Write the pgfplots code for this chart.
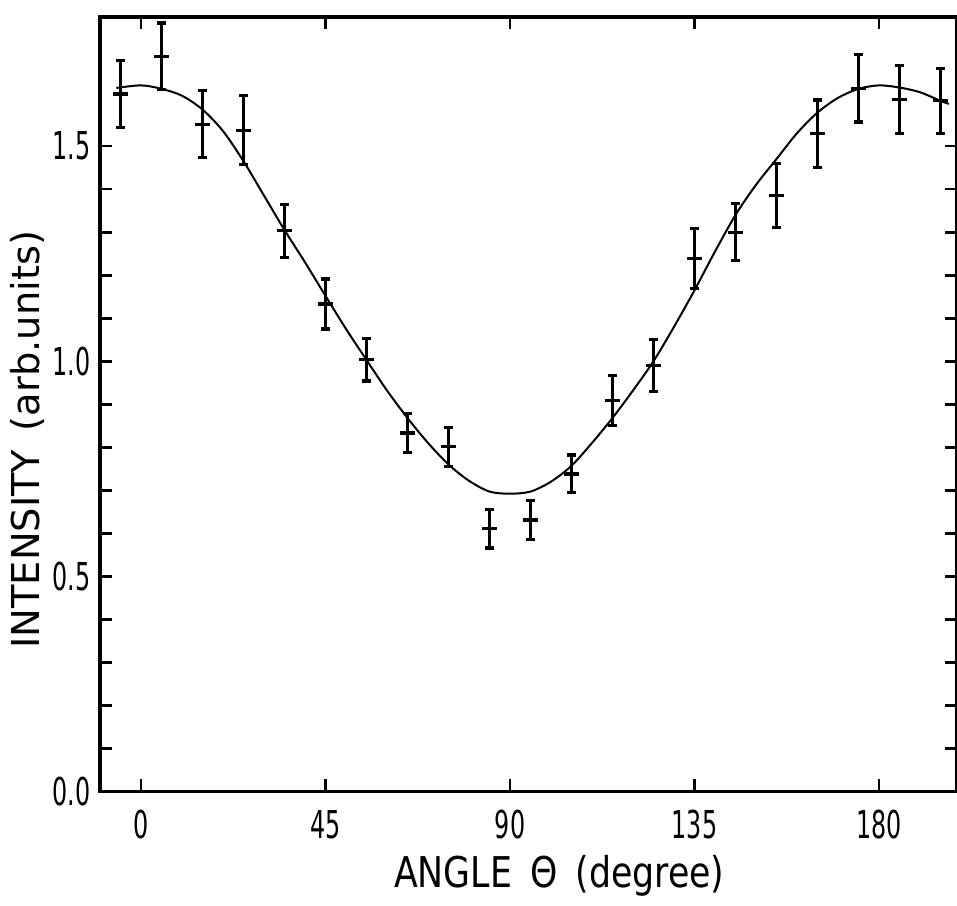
\documentclass[border=0pt]{standalone}
\usepackage{fontspec}
\usepackage{pgfplots}
\pgfplotsset{compat=1.18}
\setmainfont{DejaVu Sans}
\newfontfamily\tickfont{DejaVu Sans}[FakeStretch=0.62]
\newfontfamily\labfont{DejaVu Sans}[FakeStretch=0.82]

\begin{document}
\begin{tikzpicture}
\useasboundingbox (-25pt,-28.5pt) rectangle (214.4pt,198pt);
\begin{axis}[
    scale only axis,
    width=214.4pt,
    height=193.75pt,
    at={(0,0)}, anchor=south west,
    xmin=-10, xmax=199,
    ymin=0, ymax=1.8,
    xtick={0,45,90,135,180},
    ytick={0,0.5,1,1.5},
    minor y tick num=4,
    tick align=inside,
    major tick length=3pt,
    minor tick length=3pt,
    tick style={line width=0.7pt,black},
    axis line style={line width=0.8pt},
    /pgf/number format/assume math mode=true,
    yticklabel={\pgfmathprintnumber[fixed,fixed zerofill,precision=1]{\tick}},
    ticklabel style={font=\fontsize{9.6}{11}\tickfont},
    yticklabel style={anchor=east,inner sep=0pt,xshift=-2.2pt},
    xticklabel style={anchor=north,inner sep=0pt,yshift=-4.5pt},
    xlabel={ANGLE \,Θ \,(degree)},
    ylabel={INTENSITY \,(arb.units)},
    xlabel style={font=\fontsize{10.6}{12}\labfont,at={(axis description cs:0.536,0)},
                  anchor=base,yshift=-24pt,inner sep=0pt},
    ylabel style={font=\fontsize{9.6}{11}\rmfamily,at={(axis description cs:-0.084,0.454)},
                  anchor=center,inner sep=0pt},
    clip=false,
]
\addplot[black,line width=0.5pt,smooth,no marks] coordinates {
    (-6,1.635) (0,1.641) (5,1.633) (10,1.617) (15,1.585) (20,1.535)
    (25,1.465) (30,1.385) (35,1.305) (40,1.230) (45,1.152) (50,1.075)
    (55,1.003) (60,0.932) (65,0.868) (70,0.810) (75,0.760) (80,0.722)
    (85,0.697) (90,0.692) (95,0.697) (100,0.720) (105,0.757) (110,0.810)
    (115,0.868) (120,0.932) (125,1.000) (130,1.080) (135,1.165) (140,1.255)
    (145,1.340) (150,1.410) (155,1.470) (160,1.530) (165,1.578) (170,1.612)
    (175,1.633) (180,1.641) (185,1.636) (190,1.625) (195,1.605) (197,1.598)
};
\addplot[black,line width=0.8pt,only marks,mark=-,mark size=1.8pt,
    error bars/.cd,y dir=both,y explicit,
    error bar style={line width=0.8pt},
    error mark options={rotate=90,mark size=1.2pt,line width=0.8pt}]
    coordinates {
    (-5,1.621) +- (0,0.078)
    (5,1.709)  +- (0,0.077)
    (15,1.551) +- (0,0.078)
    (25,1.537) +- (0,0.080)
    (35,1.303) +- (0,0.062)
    (45,1.133) +- (0,0.058)
    (55,1.003) +- (0,0.049)
    (65,0.833) +- (0,0.045)
    (75,0.801) +- (0,0.045)
    (85,0.611) +- (0,0.045)
    (95,0.631) +- (0,0.045)
    (105,0.738) +- (0,0.044)
    (115,0.909) +- (0,0.058)
    (125,0.990) +- (0,0.060)
    (135,1.239) +- (0,0.070)
    (145,1.300) +- (0,0.066)
    (155,1.385) +- (0,0.074)
    (165,1.529) +- (0,0.078)
    (175,1.634) +- (0,0.078)
    (185,1.608) +- (0,0.079)
    (195,1.605) +- (0,0.075)
};
\end{axis}
\end{tikzpicture}
\end{document}
